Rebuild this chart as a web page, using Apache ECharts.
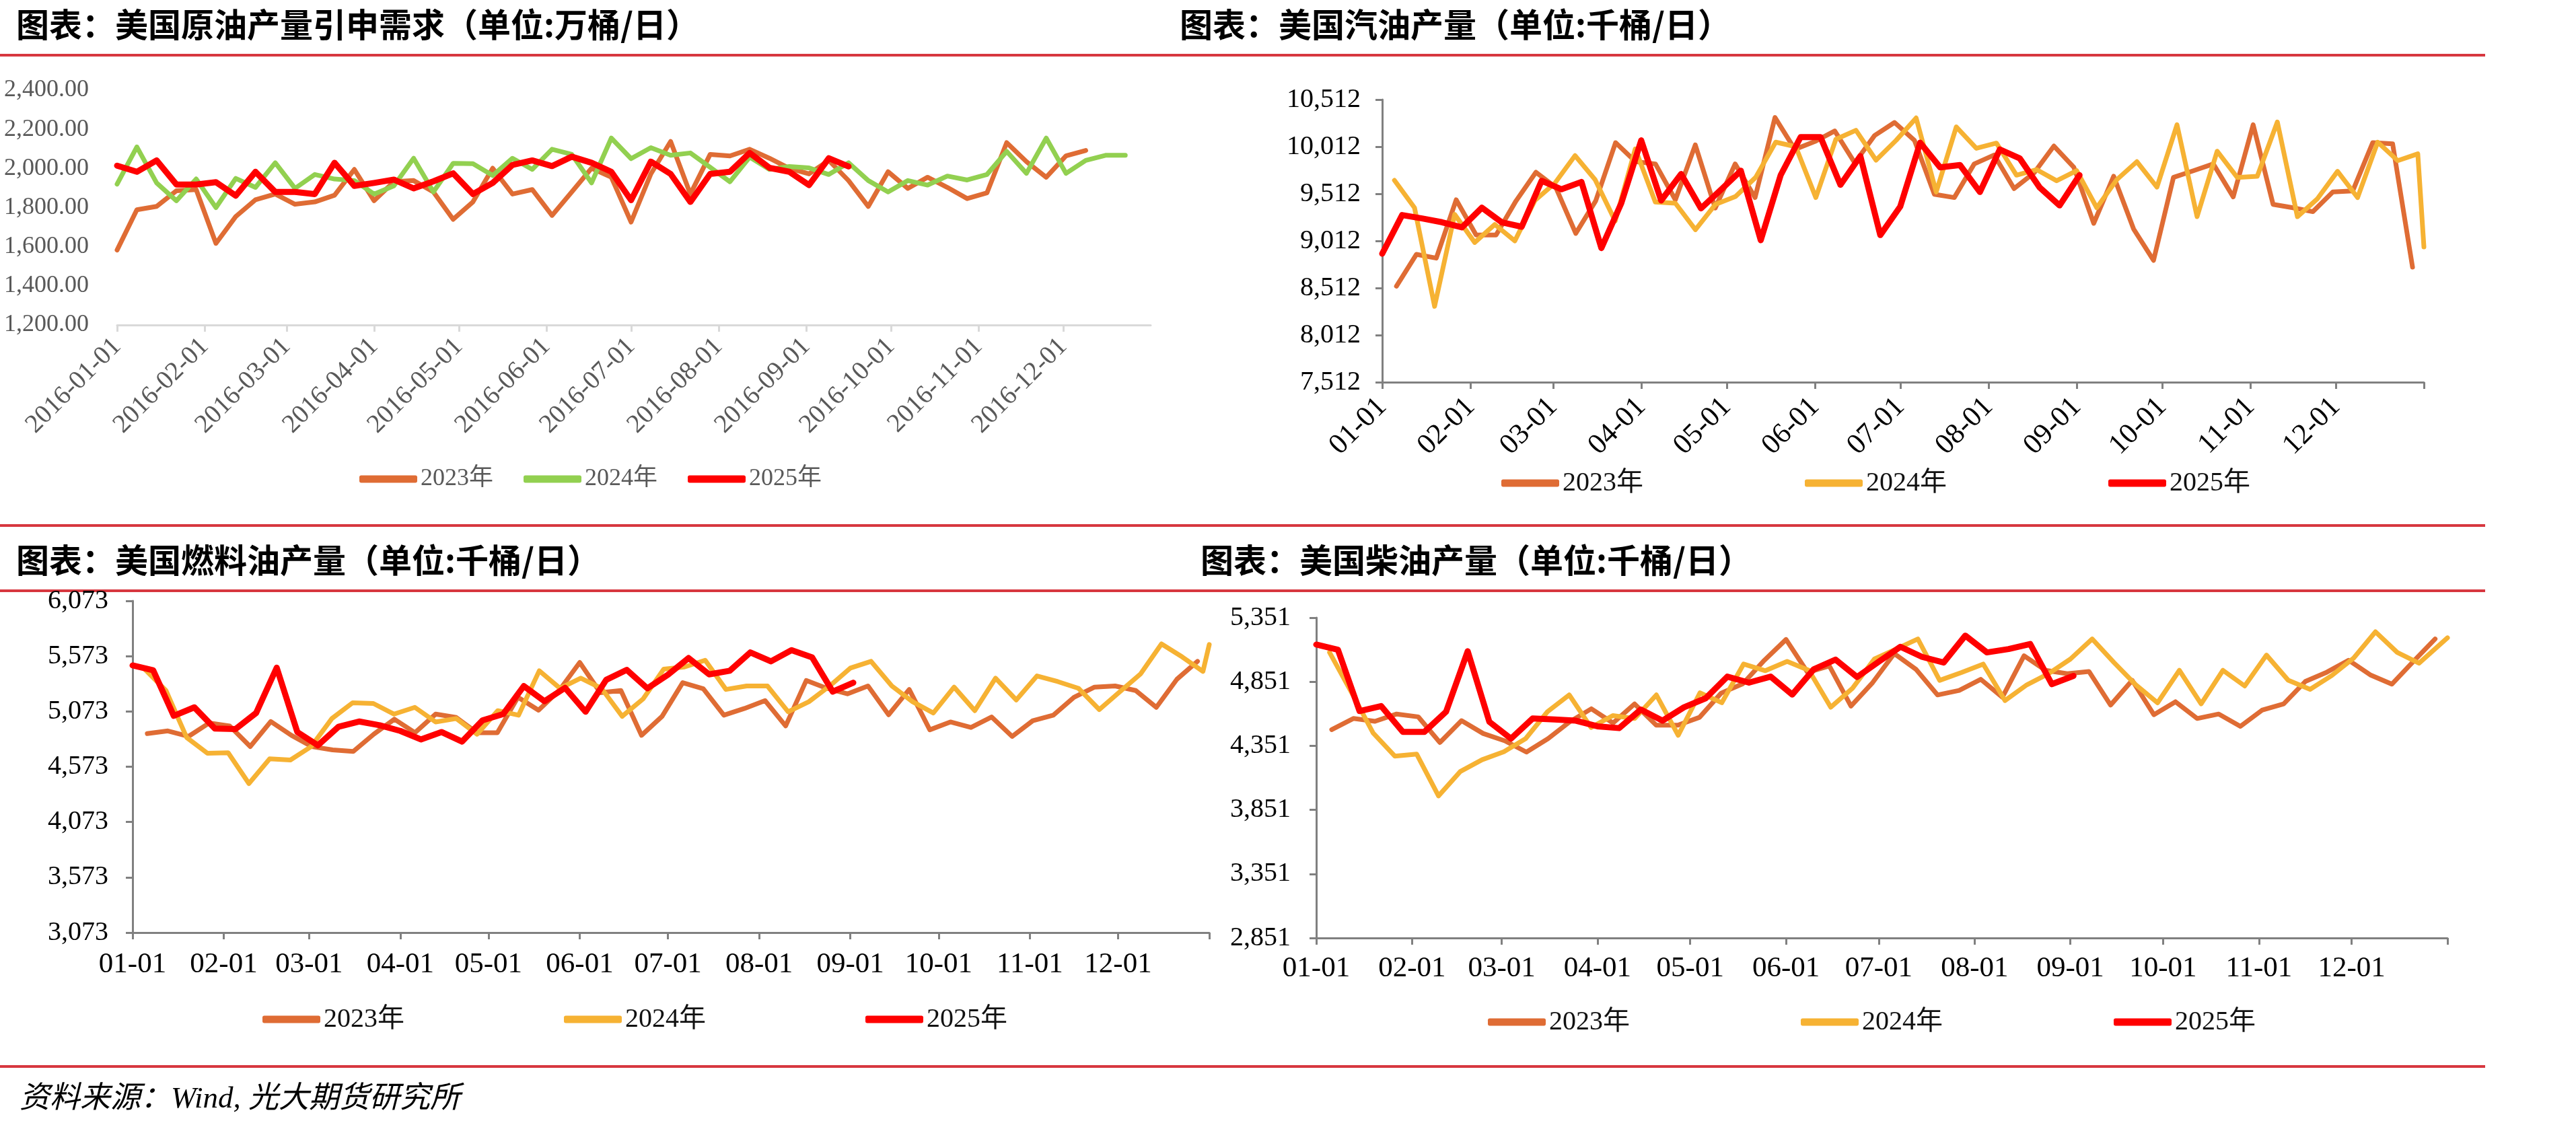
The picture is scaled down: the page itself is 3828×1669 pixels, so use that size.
<!DOCTYPE html>
<html><head><meta charset="utf-8">
<script src="https://cdn.jsdelivr.net/npm/echarts@6/dist/echarts.min.js"></script>
<style>html,body{margin:0;padding:0;background:#fff}#c{width:3828px;height:1669px}</style>
</head><body><div id="c"></div>
<script>
// ---------- axis ticks / labels ----------
const monthStartDays = [0, 31, 60, 91, 121, 152, 182, 213, 244, 274, 305, 335];
const yearEndDay = 366;
const crudeMonthLabels = ['2016-01-01','2016-02-01','2016-03-01','2016-04-01','2016-05-01','2016-06-01','2016-07-01','2016-08-01','2016-09-01','2016-10-01','2016-11-01','2016-12-01'];
const productMonthLabels = ['01-01','02-01','03-01','04-01','05-01','06-01','07-01','08-01','09-01','10-01','11-01','12-01'];
const crudeTicks = [1200, 1400, 1600, 1800, 2000, 2200, 2400];
const gasolineTicks = [7512, 8012, 8512, 9012, 9512, 10012, 10512];
const fuelOilTicks = [3073, 3573, 4073, 4573, 5073, 5573, 6073];
const dieselTicks = [2851, 3351, 3851, 4351, 4851, 5351];

// ---------- weekly series values ----------
const crude2023 = [1583,1789,1806,1886,1892,1617,1754,1840,1869,1817,1829,1863,1995,1835,1932,1938,1880,1740,1829,2001,1869,1892,1760,1880,2001,1955,1726,1972,2138,1869,2072,2064,2098,2052,2001,1972,2041,1938,1806,1983,1898,1955,1903,1846,1875,2132,2035,1955,2064,2092];
const crude2024 = [1920,2110,1926,1835,1946,1800,1949,1903,2029,1898,1969,1946,1938,1869,1911,2052,1880,2026,2024,1964,2052,1995,2098,2072,1926,2155,2050,2106,2067,2079,2006,1932,2058,1995,2010,2003,1969,2029,1938,1880,1938,1915,1961,1941,1969,2087,1975,2155,1975,2041,2067,2067];
const crude2025 = [2014,1983,2041,1918,1918,1930,1861,1983,1880,1880,1869,2029,1911,1926,1943,1898,1934,1975,1869,1926,2018,2041,2012,2060,2029,1983,1838,2035,1972,1829,1972,1983,2079,2003,1983,1915,2052,2010];

const gasoline2023 = [8531,8869,8829,9448,9074,9074,9436,9741,9579,9091,9436,10055,9853,9829,9448,10031,9360,9829,9472,10322,9983,10067,10179,9841,10131,10269,10079,9507,9472,9829,9924,9567,9733,10019,9793,9198,9698,9138,8805,9686,9757,9829,9479,10245,9400,9364,9322,9531,9543,10055,10043,8733];
const gasoline2024 = [9655,9364,8317,9293,8995,9186,9012,9441,9626,9917,9662,9222,9988,9424,9412,9131,9400,9483,9686,10060,10012,9472,10091,10186,9869,10079,10317,9531,10222,9995,10050,9710,9769,9650,9757,9364,9662,9853,9583,10245,9269,9964,9686,9698,10274,9269,9460,9750,9472,10060,9864,9936];
const gasoline2024End = 8948;
const gasoline2025 = [8876,9286,9250,9210,9155,9364,9210,9162,9650,9560,9638,8936,9412,10079,9441,9722,9357,9555,9757,9019,9710,10114,10114,9607,9912,9074,9376,10055,9793,9817,9531,9983,9888,9579,9388,9710];

const fuelOil2023 = [4873,4897,4847,4968,4942,4755,4982,4857,4755,4725,4711,4867,5003,4881,5049,5019,4881,4881,5201,5084,5262,5516,5242,5262,4857,5029,5333,5278,5039,5100,5171,4942,5353,5282,5232,5303,5043,5272,4907,4978,4928,5023,4847,4989,5039,5201,5293,5303,5262,5110,5364,5526];
const fuelOil2024 = [5450,5262,4837,4695,4699,4421,4644,4634,4755,5009,5151,5145,5049,5110,4978,5009,4867,5080,5039,5441,5282,5374,5282,5029,5185,5455,5475,5536,5272,5303,5303,5070,5161,5303,5465,5526,5303,5161,5059,5293,5080,5374,5177,5394,5343,5282,5090,5252,5414,5684,5566,5435];
const fuelOil2024End = 5678;
const fuelOil2025 = [5489,5445,5033,5110,4918,4914,5059,5469,4887,4766,4934,4982,4948,4897,4820,4887,4800,4993,5049,5303,5165,5287,5070,5359,5449,5282,5405,5556,5408,5441,5607,5526,5627,5562,5252,5333];

const diesel2023 = [4477,4564,4542,4599,4577,4377,4547,4447,4390,4302,4407,4538,4640,4529,4678,4512,4512,4573,4762,4835,5019,5181,4923,4975,4661,4844,5071,4949,4748,4783,4870,4730,5054,4940,4914,4931,4669,4862,4594,4695,4564,4599,4503,4629,4678,4853,4926,5019,4905,4832,5010,5185];
const diesel2024 = [5080,4770,4451,4270,4286,3960,4150,4242,4305,4407,4617,4748,4494,4587,4564,4748,4433,4765,4687,4989,4937,5010,4940,4652,4800,5028,5106,5185,4862,4923,4989,4704,4827,4914,5028,5185,5001,4827,4687,4940,4678,4940,4818,5059,4862,4792,4900,5036,5241,5080,4996];
const diesel2024End = 5194;
const diesel2025 = [5141,5101,4622,4661,4460,4460,4617,5089,4538,4407,4564,4556,4547,4503,4489,4634,4547,4652,4722,4891,4844,4891,4751,4949,5024,4888,5008,5124,5045,5001,5211,5080,5106,5146,4832,4897];

// ---------- week dates (day of year of first report, spacing in days) ----------
const crudeFirstDay = 0, weekDays = 7;
const first2023 = 5, first2024 = 4.3, first2025 = 0, weekDays2024 = 7.05;

function weekly(values, firstDay, step) { return values.map((v, i) => [firstDay + step * i, v]); }

const C2023 = '#DF6C34', C2024G = '#92D050', C2024Y = '#F6B233', C2025 = '#FF0000';
const SERIF = '"Liberation Serif", "Noto Sans CJK SC"';
const CJK = '"Noto Sans CJK SC"';

function line(name, gi, data, color, width, z) {
  return { type: 'line', name, xAxisIndex: gi, yAxisIndex: gi, data, showSymbol: false, symbol: 'none',
    lineStyle: { color, width, join: 'round', cap: 'round' }, itemStyle: { color }, z, animation: false, clip: true };
}

const grids = [
  { left: 174, top: 134, width: 1536, height: 349 },
  { left: 2054, top: 148, width: 1548, height: 420 },
  { left: 197, top: 893, width: 1600, height: 493 },
  { left: 1956, top: 918, width: 1681, height: 476 }
].map(g => Object.assign({ outerBoundsMode: 'none', containLabel: false }, g));

function xAxis(gi, labels, tickVals, opts) {
  return { type: 'value', gridIndex: gi, min: 0, max: yearEndDay,
    axisLine: { show: true, onZero: false, lineStyle: { color: opts.axisColor, width: 3 } },
    axisTick: { show: true, customValues: tickVals, length: 10, lineStyle: { color: opts.axisColor, width: 3 } },
    axisLabel: { customValues: monthStartDays, formatter: v => labels[monthStartDays.indexOf(v)] || '',
      rotate: opts.rotate, margin: opts.margin, fontFamily: SERIF, fontSize: opts.fontSize, color: opts.labelColor },
    splitLine: { show: false } };
}
function yAxis(gi, ticks, opts) {
  return { type: 'value', gridIndex: gi, min: ticks[0], max: ticks[ticks.length - 1], interval: ticks[1] - ticks[0],
    axisLine: { show: opts.showLine, lineStyle: { color: opts.axisColor, width: 3 } },
    axisTick: { show: opts.showLine, customValues: ticks, length: 10, lineStyle: { color: opts.axisColor, width: 3 } },
    axisLabel: { customValues: ticks, formatter: opts.fmt, margin: opts.margin, fontFamily: SERIF, fontSize: opts.fontSize, color: opts.labelColor },
    splitLine: { show: false } };
}
const fmt0 = v => Number(v).toLocaleString('en-US');
const fmt2 = v => Number(v).toLocaleString('en-US', { minimumFractionDigits: 2, maximumFractionDigits: 2 });
const allMonthTicks = monthStartDays.concat([yearEndDay]);

const xAxes = [
  xAxis(0, crudeMonthLabels, monthStartDays, { axisColor: '#D9D9D9', rotate: 45, margin: 26, fontSize: 39, labelColor: '#595959' }),
  xAxis(1, productMonthLabels, allMonthTicks, { axisColor: '#808080', rotate: 45, margin: 30, fontSize: 43, labelColor: '#000' }),
  xAxis(2, productMonthLabels, allMonthTicks, { axisColor: '#808080', rotate: 0, margin: 26, fontSize: 43, labelColor: '#000' }),
  xAxis(3, productMonthLabels, allMonthTicks, { axisColor: '#808080', rotate: 0, margin: 24, fontSize: 43, labelColor: '#000' })
];
const yAxes = [
  yAxis(0, crudeTicks, { showLine: false, axisColor: '#D9D9D9', fmt: fmt2, margin: 42, fontSize: 36, labelColor: '#595959' }),
  yAxis(1, gasolineTicks, { showLine: true, axisColor: '#808080', fmt: fmt0, margin: 32, fontSize: 40, labelColor: '#000' }),
  yAxis(2, fuelOilTicks, { showLine: true, axisColor: '#808080', fmt: fmt0, margin: 36, fontSize: 40, labelColor: '#000' }),
  yAxis(3, dieselTicks, { showLine: true, axisColor: '#808080', fmt: fmt0, margin: 38, fontSize: 40, labelColor: '#000' })
];

const series = [
  line('原油|2023年', 0, weekly(crude2023, crudeFirstDay, weekDays), C2023, 7, 2),
  line('原油|2024年', 0, weekly(crude2024, crudeFirstDay, weekDays), C2024G, 7, 3),
  line('原油|2025年', 0, weekly(crude2025, crudeFirstDay, weekDays), C2025, 9, 4),
  line('汽油|2023年', 1, weekly(gasoline2023, first2023, weekDays), C2023, 7, 2),
  line('汽油|2024年', 1, weekly(gasoline2024, first2024, weekDays2024).concat([[yearEndDay, gasoline2024End]]), C2024Y, 7, 3),
  line('汽油|2025年', 1, weekly(gasoline2025, first2025, weekDays), C2025, 9, 4),
  line('燃料油|2023年', 2, weekly(fuelOil2023, first2023, weekDays), C2023, 7, 2),
  line('燃料油|2024年', 2, weekly(fuelOil2024, first2024, weekDays2024).concat([[yearEndDay, fuelOil2024End]]), C2024Y, 7, 3),
  line('燃料油|2025年', 2, weekly(fuelOil2025, first2025, weekDays), C2025, 9, 4),
  line('柴油|2023年', 3, weekly(diesel2023, first2023, weekDays), C2023, 7, 2),
  line('柴油|2024年', 3, weekly(diesel2024, first2024, weekDays2024).concat([[yearEndDay, diesel2024End]]), C2024Y, 7, 3),
  line('柴油|2025年', 3, weekly(diesel2025, first2025, weekDays), C2025, 9, 4)
];

function legend(prefix, left, top, gap, fontSize, color) {
  return { data: ['2023年', '2024年', '2025年'].map(y => prefix + '|' + y), left, top, itemGap: gap, padding: 0,
    itemWidth: 86, itemHeight: 11, icon: 'roundRect', formatter: n => n.split('|')[1],
    textStyle: { fontFamily: SERIF, fontSize, color, padding: [0, 0, 0, 0] }, selectedMode: false };
}
const legends = [
  legend('原油', 534, 694, 45, 36, '#595959'),
  legend('汽油', 2231, 698, 240, 40, '#111'),
  legend('燃料油', 390, 1495, 237, 40, '#111'),
  legend('柴油', 2211, 1499, 254, 40, '#111')
];

const RULE = '#D7373F';
function rule(y) { return { type: 'rect', shape: { x: 0, y: y, width: 3693, height: 4 }, style: { fill: RULE }, silent: true }; }
function title(text, x, y) {
  return { type: 'text', x, y, style: { text, fill: '#000', font: 'bold 49px ' + CJK, verticalAlign: 'middle', align: 'left' } };
}
const graphic = [
  rule(80), rule(779), rule(876), rule(1583),
  title('图表：美国原油产量引申需求（单位:万桶/日）', 24, 36),
  title('图表：美国汽油产量（单位:千桶/日）', 1753, 36),
  title('图表：美国燃料油产量（单位:千桶/日）', 24, 832),
  title('图表：美国柴油产量（单位:千桶/日）', 1784, 832),
  { type: 'text', x: 29, y: 1634, style: { text: '资料来源：Wind, 光大期货研究所', fill: '#000',
      font: 'italic 45px "Liberation Serif", "Noto Sans CJK SC"', verticalAlign: 'middle', align: 'left' } }
];

const chart = echarts.init(document.getElementById('c'), null, { renderer: 'canvas' });
chart.setOption({
  backgroundColor: '#fff', animation: false,
  grid: grids, xAxis: xAxes, yAxis: yAxes, series, legend: legends, graphic
});
</script></body></html>
